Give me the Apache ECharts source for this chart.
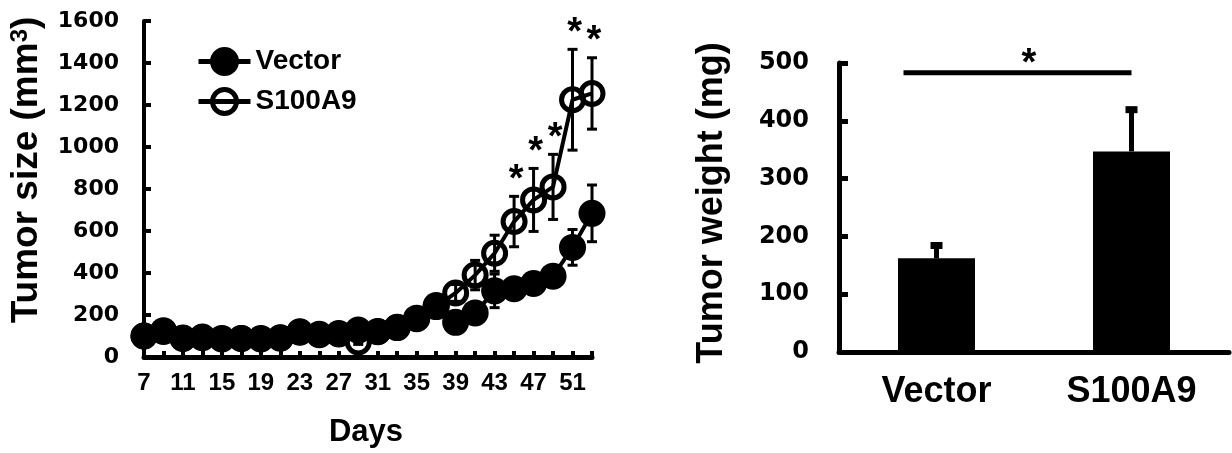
<!DOCTYPE html>
<html>
<head>
<meta charset="utf-8">
<script src="https://cdn.jsdelivr.net/npm/echarts@6/dist/echarts.min.js"></script>
<style>
  html, body { margin: 0; padding: 0; background: #fff; }
  #chart { width: 1232px; height: 453px; }
</style>
</head>
<body>
<div id="chart"></div>
<script>
// left panel: tumor growth curve
const days = ['7', '9', '11', '13', '15', '17', '19', '21', '23', '25', '27', '29',
              '31', '33', '35', '37', '39', '41', '43', '45', '47', '49', '51', '53'];
const vectorMean = [100, 125, 90, 95, 88, 88, 88, 92, 120, 108, 112, 128,
                    120, 142, 185, 245, 165, 210, 315, 325, 350, 385, 522, 684];
const vectorErr = [10, 12, 10, 10, 10, 10, 10, 10, 12, 12, 12, 12,
                   14, 16, 20, 25, 25, 30, 80, 40, 45, 50, 85, 135];
const s100Mean = [100, 122, 88, 92, 86, 88, 86, 90, 118, 106, 110, 72,
                  122, 140, 182, 240, 305, 390, 494, 645, 748, 810, 1225, 1255];
const s100Err = [10, 12, 10, 10, 10, 10, 10, 10, 12, 12, 12, 12,
                 14, 16, 20, 22, 40, 70, 86, 120, 150, 155, 240, 170];
const starDays = ['45', '47', '49', '51', '53'];

// right panel: tumor weight
const groups = ['Vector', 'S100A9'];
const weightMean = [162, 347];
const weightErr = [24, 74];
const sigLevel = 483;

const NUM = '"DejaVu Sans", sans-serif';
const TXT = '"Liberation Sans", Arial, sans-serif';
const NARROW = '"Liberation Sans Narrow", "Liberation Sans", Arial, sans-serif';

const chart = echarts.init(document.getElementById('chart'));

const errData = (means, errs) => means.map((m, i) => [i, m, errs[i], starDays.includes(days[i]) ? 1 : 0]);

function lineErrorBars(params, api) {
    const i = api.value(0), m = api.value(1), e = api.value(2);
    const top = api.coord([i, m + e]);
    const bot = api.coord([i, m - e]);
    const s = { stroke: '#000', lineWidth: 3 };
    const children = [
        { type: 'line', shape: { x1: top[0], y1: top[1], x2: bot[0], y2: bot[1] }, style: s },
        { type: 'line', shape: { x1: top[0] - 5, y1: top[1], x2: top[0] + 5, y2: top[1] }, style: s },
        { type: 'line', shape: { x1: bot[0] - 5, y1: bot[1], x2: bot[0] + 5, y2: bot[1] }, style: s }
    ];
    if (api.value(3)) {
        children.push({
            type: 'text', x: top[0] + 2, y: top[1] - 16,
            style: { text: '*', font: 'bold 38px ' + TXT, fill: '#000', align: 'center', verticalAlign: 'middle' }
        });
    }
    return { type: 'group', children };
}

function barErrorBars(params, api) {
    const i = api.value(0), m = api.value(1), e = api.value(2);
    const base = api.coord([i, m]);
    const top = api.coord([i, m + e]);
    const s = { stroke: '#000', lineWidth: 5 };
    return {
        type: 'group',
        children: [
            { type: 'line', shape: { x1: base[0], y1: base[1], x2: top[0], y2: top[1] }, style: s },
            { type: 'line', shape: { x1: top[0] - 6, y1: top[1] + 1, x2: top[0] + 6, y2: top[1] + 1 }, style: { stroke: '#000', lineWidth: 7 } }
        ]
    };
}

function bracket(params, api) {
    const a = api.coord([api.value(0), api.value(2)]);
    const b = api.coord([api.value(1), api.value(2)]);
    return {
        type: 'group',
        children: [
            { type: 'line', shape: { x1: a[0] - 33, y1: a[1], x2: b[0], y2: b[1] }, style: { stroke: '#000', lineWidth: 5 } },
            {
                type: 'text', x: (a[0] + b[0]) / 2 - 5, y: a[1] - 8,
                style: { text: '*', font: 'bold 38px ' + TXT, fill: '#000', align: 'center', verticalAlign: 'middle' }
            }
        ]
    };
}

chart.setOption({
    animation: false,
    backgroundColor: '#fff',
    grid: [
        { left: 144, top: 21, width: 448, bottom: 96 },
        { left: 839, top: 63, right: 3, bottom: 101 }
    ],
    legend: {
        data: ['Vector', 'S100A9'],
        orient: 'vertical',
        left: 191, top: 42,
        itemWidth: 52, itemHeight: 30, itemGap: 11,
        lineStyle: { width: 5 },
        itemStyle: { borderWidth: 5 },
        textStyle: { fontFamily: TXT, fontWeight: 'bold', fontSize: 28, color: '#000' }
    },
    xAxis: [
        {
            gridIndex: 0, type: 'category', data: days, boundaryGap: false,
            axisLine: { lineStyle: { color: '#000', width: 5 } },
            axisTick: { inside: true, length: 6, interval: 0, lineStyle: { color: '#000', width: 4 } },
            axisLabel: { interval: 1, margin: 14, color: '#000', fontFamily: NARROW, fontWeight: 'bold', fontSize: 24 }
        },
        {
            gridIndex: 1, type: 'category', data: groups,
            axisLine: { lineStyle: { color: '#000', width: 5 } },
            axisTick: { show: false },
            axisLabel: { margin: 22, color: '#000', fontFamily: TXT, fontWeight: 'bold', fontSize: 36 }
        }
    ],
    yAxis: [
        {
            gridIndex: 0, type: 'value', min: 0, max: 1600, interval: 200,
            splitLine: { show: false },
            axisLine: { show: true, lineStyle: { color: '#000', width: 4 } },
            axisTick: { show: true, inside: true, length: 7, lineStyle: { color: '#000', width: 4 } },
            axisLabel: { margin: 25, color: '#000', fontFamily: NUM, fontWeight: 'bold', fontSize: 22, formatter: (v) => String(v) }
        },
        {
            gridIndex: 1, type: 'value', min: 0, max: 500, interval: 100,
            splitLine: { show: false },
            axisLine: { show: true, lineStyle: { color: '#000', width: 5 } },
            axisTick: { show: true, inside: true, length: 9, lineStyle: { color: '#000', width: 5 } },
            axisLabel: { margin: 30, color: '#000', fontFamily: NUM, fontWeight: 'bold', fontSize: 24, formatter: (v) => String(v) }
        }
    ],
    series: [
        {
            type: 'custom', name: 'err-s100', xAxisIndex: 0, yAxisIndex: 0, z: 1,
            renderItem: lineErrorBars, data: errData(s100Mean, s100Err)
        },
        {
            type: 'custom', name: 'err-vec', xAxisIndex: 0, yAxisIndex: 0, z: 1,
            renderItem: lineErrorBars, data: vectorMean.map((m, i) => [i, m, vectorErr[i], 0])
        },
        {
            name: 'S100A9', type: 'line', xAxisIndex: 0, yAxisIndex: 0, z: 2,
            data: s100Mean, symbol: 'circle', symbolSize: 22, showAllSymbol: true,
            lineStyle: { color: '#000', width: 4 },
            itemStyle: { color: 'rgba(0,0,0,0)', borderColor: '#000', borderWidth: 5 }
        },
        {
            name: 'Vector', type: 'line', xAxisIndex: 0, yAxisIndex: 0, z: 3,
            data: vectorMean, symbol: 'circle', symbolSize: 27, showAllSymbol: true,
            lineStyle: { color: '#000', width: 4 },
            itemStyle: { color: '#000', borderColor: '#000', borderWidth: 0 }
        },
        {
            type: 'bar', xAxisIndex: 1, yAxisIndex: 1, data: weightMean, barWidth: 77,
            itemStyle: { color: '#000' }
        },
        {
            type: 'custom', xAxisIndex: 1, yAxisIndex: 1, z: 1,
            renderItem: barErrorBars, data: weightMean.map((m, i) => [i, m, weightErr[i]])
        },
        {
            type: 'custom', xAxisIndex: 1, yAxisIndex: 1, z: 4,
            renderItem: bracket, data: [[0, 1, sigLevel]]
        }
    ],
    graphic: [
        {
            type: 'text', x: 27, y: 170, rotation: Math.PI / 2,
            style: {
                text: 'Tumor size (mm{s|3})', font: 'bold 37px ' + TXT, fill: '#000', align: 'center', verticalAlign: 'middle',
                rich: { s: { fontFamily: TXT, fontWeight: 'bold', fontSize: 24, verticalAlign: 'top', padding: [0, 0, 10, 0] } }
            }
        },
        {
            type: 'text', x: 366, y: 432,
            style: { text: 'Days', font: 'bold 31px ' + TXT, fill: '#000', align: 'center', verticalAlign: 'middle' }
        },
        {
            type: 'text', x: 712, y: 203, rotation: Math.PI / 2,
            style: { text: 'Tumor weight (mg)', font: 'bold 36px ' + TXT, fill: '#000', align: 'center', verticalAlign: 'middle' }
        }
    ]
});
</script>
</body>
</html>
